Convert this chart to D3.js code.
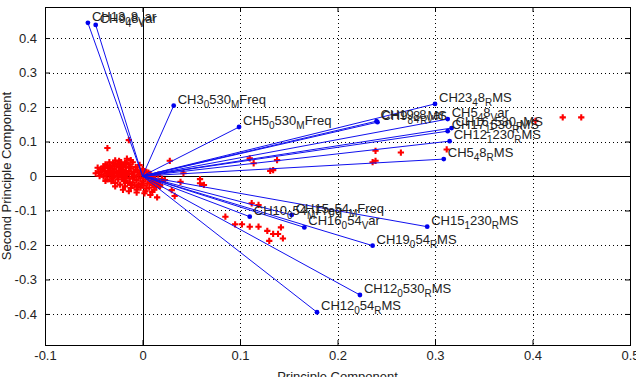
<!DOCTYPE html>
<html>
<head>
<meta charset="utf-8">
<script src="https://cdn.jsdelivr.net/npm/d3@7"></script>
<style>
  body { margin: 0; background: #fff; }
  text { font-family: "Liberation Sans", Arial, sans-serif; }
</style>
</head>
<body>
<script>
// variable loadings (coefficients on PC1 / PC2), labels use TeX style "_x" subscripts
var vecNames = [
    "CH13_08_Var", "CH9_48_Var", "CH3_0530_MFreq", "CH5_0530_MFreq",
    "CH23_48_RMS", "CH19_48_Var", "CH9_88_RMS", "CH5_48_Var",
    "CH17_1530_RMS", "CH16_1530_RMS", "CH12_1230_RMS", "CH5_48_RMS",
    "CH10_054_MFreq", "CH15_054_MFreq", "CH16_054_Var", "CH19_054_RMS",
    "CH15_1230_RMS", "CH12_0530_RMS", "CH12_054_RMS"
];
var vecPC1 = [-0.056, -0.048, 0.032, 0.099, 0.300, 0.240, 0.241, 0.313,
    0.313, 0.317, 0.315, 0.309, 0.110, 0.153, 0.166, 0.236, 0.292, 0.223, 0.179];
var vecPC2 = [0.444, 0.438, 0.204, 0.142, 0.209, 0.159, 0.156, 0.165,
    0.130, 0.139, 0.101, 0.049, -0.118, -0.113, -0.149, -0.202, -0.147, -0.345, -0.395];

// observation scores
var scores = [
    [-0.045,0.012],[-0.043,0.020],[-0.042,0.005],[-0.040,0.028],[-0.040,-0.002],[-0.039,0.015],
    [-0.038,0.034],[-0.037,0.008],[-0.036,-0.010],[-0.035,0.022],[-0.034,0.040],[-0.034,0.002],
    [-0.033,0.015],[-0.032,-0.015],[-0.031,0.030],[-0.030,0.008],[-0.030,-0.004],[-0.029,0.020],
    [-0.028,0.045],[-0.028,-0.020],[-0.027,0.012],[-0.026,0.035],[-0.026,0.000],[-0.025,-0.010],
    [-0.024,0.025],[-0.024,0.016],[-0.023,-0.025],[-0.022,0.006],[-0.022,0.040],[-0.021,-0.005],
    [-0.020,0.030],[-0.020,0.018],[-0.019,-0.015],[-0.018,0.010],[-0.018,-0.030],[-0.017,0.024],
    [-0.016,0.002],[-0.016,0.050],[-0.015,-0.020],[-0.014,0.014],[-0.014,0.034],[-0.013,-0.008],
    [-0.012,-0.035],[-0.012,0.022],[-0.011,0.006],[-0.010,-0.018],[-0.010,0.040],[-0.009,0.012],
    [-0.008,-0.028],[-0.008,0.000],[-0.007,0.026],[-0.006,-0.012],[-0.006,-0.040],[-0.005,0.016],
    [-0.004,0.004],[-0.004,-0.024],[-0.003,0.032],[-0.002,-0.006],[-0.002,-0.034],[-0.001,0.010],
    [0.000,-0.016],[0.000,0.020],[0.001,-0.028],[0.002,0.002],[0.003,-0.010],[0.003,-0.044],
    [0.004,0.012],[0.005,-0.022],[0.006,-0.004],[0.007,-0.034],[0.008,0.006],[0.009,-0.014],
    [0.010,-0.026],[0.011,-0.002],[0.012,-0.040],[0.013,-0.012],[0.015,-0.020],[0.016,0.004],
    [0.018,-0.030],[0.020,-0.008],
    [-0.044,0.000],[-0.041,0.018],[-0.039,0.024],[-0.037,0.002],[-0.035,0.012],[-0.033,0.026],
    [-0.032,0.004],[-0.031,-0.008],[-0.029,0.010],[-0.027,0.028],[-0.025,0.008],[-0.023,0.014],
    [-0.021,0.026],[-0.019,0.004],[-0.017,-0.006],[-0.015,0.008],[-0.013,0.028],[-0.011,-0.026],
    [-0.009,-0.004],[-0.007,0.018],[-0.005,-0.030],[-0.003,0.008],[-0.001,-0.022],[0.001,0.014],
    [0.004,-0.036],[0.006,0.010],[0.008,-0.020],[0.010,0.000],[0.012,-0.018],[0.014,-0.032],
    [0.017,-0.016],[-0.030,0.038],[-0.024,0.044],[-0.018,0.038],[-0.012,0.046],[-0.036,0.030],
    [-0.046,0.024],[-0.048,0.008],[-0.038,-0.014],[-0.028,-0.030],[-0.020,-0.040],[-0.014,-0.044],
    [-0.006,-0.048],[0.002,-0.050],[0.010,-0.046],
    // around the origin, right side
    [-0.036,0.081],[-0.014,0.104],[0.015,-0.062],[0.028,0.044],[0.018,-0.026],[0.023,-0.012],
    [0.008,-0.055],[0.030,-0.041],[0.033,-0.058],[0.042,0.008],[0.059,-0.009],[0.063,-0.026],
    [0.039,-0.017],[0.059,-0.021],
    // further out
    [0.110,0.051],[0.114,0.037],[0.138,0.046],[0.134,0.017],[0.131,0.015],[0.239,0.073],
    [0.265,0.068],[0.239,0.044],[0.236,0.040],[0.312,0.077],[0.403,0.160],[0.431,0.170],
    [0.450,0.170],
    [0.119,-0.084],[0.112,-0.079],[0.085,-0.118],[0.095,-0.140],[0.102,-0.140],[0.110,-0.147],
    [0.119,-0.147],[0.128,-0.159],[0.134,-0.168],[0.139,-0.168],[0.142,-0.149],[0.144,-0.181],
    [0.130,-0.188]
];

var xTicks = [-0.1, 0, 0.1, 0.2, 0.3, 0.4, 0.5];
var yTicks = [-0.4, -0.3, -0.2, -0.1, 0, 0.1, 0.2, 0.3, 0.4];

var width = 636, height = 377;
var plotL = 45, plotR = 630, plotT = 7, plotB = 345;

var svg = d3.select("body").append("svg")
    .attr("width", width)
    .attr("height", height);

var x = d3.scaleLinear().domain([-0.1, 0.5]).range([plotL, plotR]);
var y = d3.scaleLinear().domain([-0.49, 0.49]).range([plotB, plotT]);

// dotted grid
var grid = svg.append("g").attr("stroke", "#000").attr("stroke-width", 1)
    .attr("stroke-dasharray", "1,3");
grid.selectAll(".gx").data(xTicks.filter(function(d) { return d > -0.1 && d < 0.5; }))
    .enter().append("line")
    .attr("x1", function(d) { return Math.round(x(d)) + 0.5; })
    .attr("x2", function(d) { return Math.round(x(d)) + 0.5; })
    .attr("y1", plotT).attr("y2", plotB);
grid.selectAll(".gy").data(yTicks)
    .enter().append("line")
    .attr("y1", function(d) { return Math.round(y(d)) + 0.5; })
    .attr("y2", function(d) { return Math.round(y(d)) + 0.5; })
    .attr("x1", plotL).attr("x2", plotR);

// zero axes of the biplot
svg.append("line")
    .attr("x1", Math.round(x(0)) + 0.5).attr("x2", Math.round(x(0)) + 0.5)
    .attr("y1", plotT).attr("y2", plotB)
    .attr("stroke", "#000");
svg.append("line")
    .attr("y1", Math.round(y(0)) + 0.5).attr("y2", Math.round(y(0)) + 0.5)
    .attr("x1", plotL).attr("x2", plotR)
    .attr("stroke", "#000");

// axes with inward ticks
var fmt = function(d) { return String(+d.toFixed(1)); };
var xAxis = d3.axisBottom(x).tickValues(xTicks).tickFormat(fmt)
    .tickSizeInner(-5).tickSizeOuter(0).tickPadding(6);
var yAxis = d3.axisLeft(y).tickValues(yTicks).tickFormat(fmt)
    .tickSizeInner(-5).tickSizeOuter(0).tickPadding(8);

var gx = svg.append("g").attr("transform", "translate(0," + plotB + ")").call(xAxis);
var gy = svg.append("g").attr("transform", "translate(" + plotL + ",0)").call(yAxis);
[gx, gy].forEach(function(g) {
    g.select(".domain").remove();
    g.selectAll("text").attr("font-size", 13).attr("fill", "#222")
        .attr("font-family", "Liberation Sans, Arial, sans-serif");
    g.selectAll("line").attr("stroke", "#000");
});

// top / right ticks
svg.append("g").attr("transform", "translate(0," + plotT + ")")
    .call(d3.axisTop(x).tickValues(xTicks).tickSizeInner(-5).tickSizeOuter(0).tickFormat(""))
    .call(function(g) { g.select(".domain").remove(); });
svg.append("g").attr("transform", "translate(" + plotR + ",0)")
    .call(d3.axisRight(y).tickValues(yTicks).tickSizeInner(-5).tickSizeOuter(0).tickFormat(""))
    .call(function(g) { g.select(".domain").remove(); });

// box
svg.append("rect")
    .attr("x", plotL + 0.5).attr("y", plotT + 0.5)
    .attr("width", plotR - plotL).attr("height", plotB - plotT)
    .attr("fill", "none").attr("stroke", "#000");

// score points
var cross = d3.symbol().type(d3.symbolCross).size(22);
svg.append("g").selectAll("path").data(scores).enter().append("path")
    .attr("d", cross)
    .attr("transform", function(d) { return "translate(" + x(d[0]) + "," + y(d[1]) + ")"; })
    .attr("fill", "#ff0000");

// loading vectors
var vectors = vecNames.map(function(n, i) { return {name: n, px: vecPC1[i], py: vecPC2[i]}; });
var vg = svg.append("g");
vg.selectAll("line").data(vectors).enter().append("line")
    .attr("x1", x(0)).attr("y1", y(0))
    .attr("x2", function(d) { return x(d.px); })
    .attr("y2", function(d) { return y(d.py); })
    .attr("stroke", "#1010ee").attr("stroke-width", 1);
vg.selectAll("circle").data(vectors).enter().append("circle")
    .attr("cx", function(d) { return x(d.px); })
    .attr("cy", function(d) { return y(d.py); })
    .attr("r", 2.4).attr("fill", "#0000ee");

// labels with TeX-like subscripts: "_c" puts the next char lower and smaller
function texParts(s) {
    var parts = [];
    for (var i = 0; i < s.length; i++) {
        if (s[i] === "_" && i + 1 < s.length) {
            parts.push({t: s[i + 1], sub: true});
            i++;
        } else {
            if (parts.length && !parts[parts.length - 1].sub) parts[parts.length - 1].t += s[i];
            else parts.push({t: s[i], sub: false});
        }
    }
    return parts;
}

vectors.forEach(function(d) {
    var t = svg.append("text")
        .attr("x", x(d.px) + 4)
        .attr("y", y(d.py) - 2)
        .attr("font-size", 13)
        .attr("fill", "#222");
    var lowered = false;
    texParts(d.name).forEach(function(p) {
        var ts = t.append("tspan").text(p.t);
        if (p.sub && !lowered) { ts.attr("dy", 4).attr("font-size", 10); lowered = true; }
        else if (p.sub) { ts.attr("font-size", 10); }
        else if (lowered) { ts.attr("dy", -4); lowered = false; }
    });
});

// axis titles
svg.append("text")
    .attr("x", (plotL + plotR) / 2).attr("y", 381)
    .attr("text-anchor", "middle").attr("font-size", 13).attr("fill", "#222")
    .text("Principle Component");
svg.append("text")
    .attr("transform", "translate(11," + ((plotT + plotB) / 2) + ") rotate(-90)")
    .attr("text-anchor", "middle").attr("font-size", 13).attr("fill", "#222")
    .text("Second Principle Component");
</script>
</body>
</html>
